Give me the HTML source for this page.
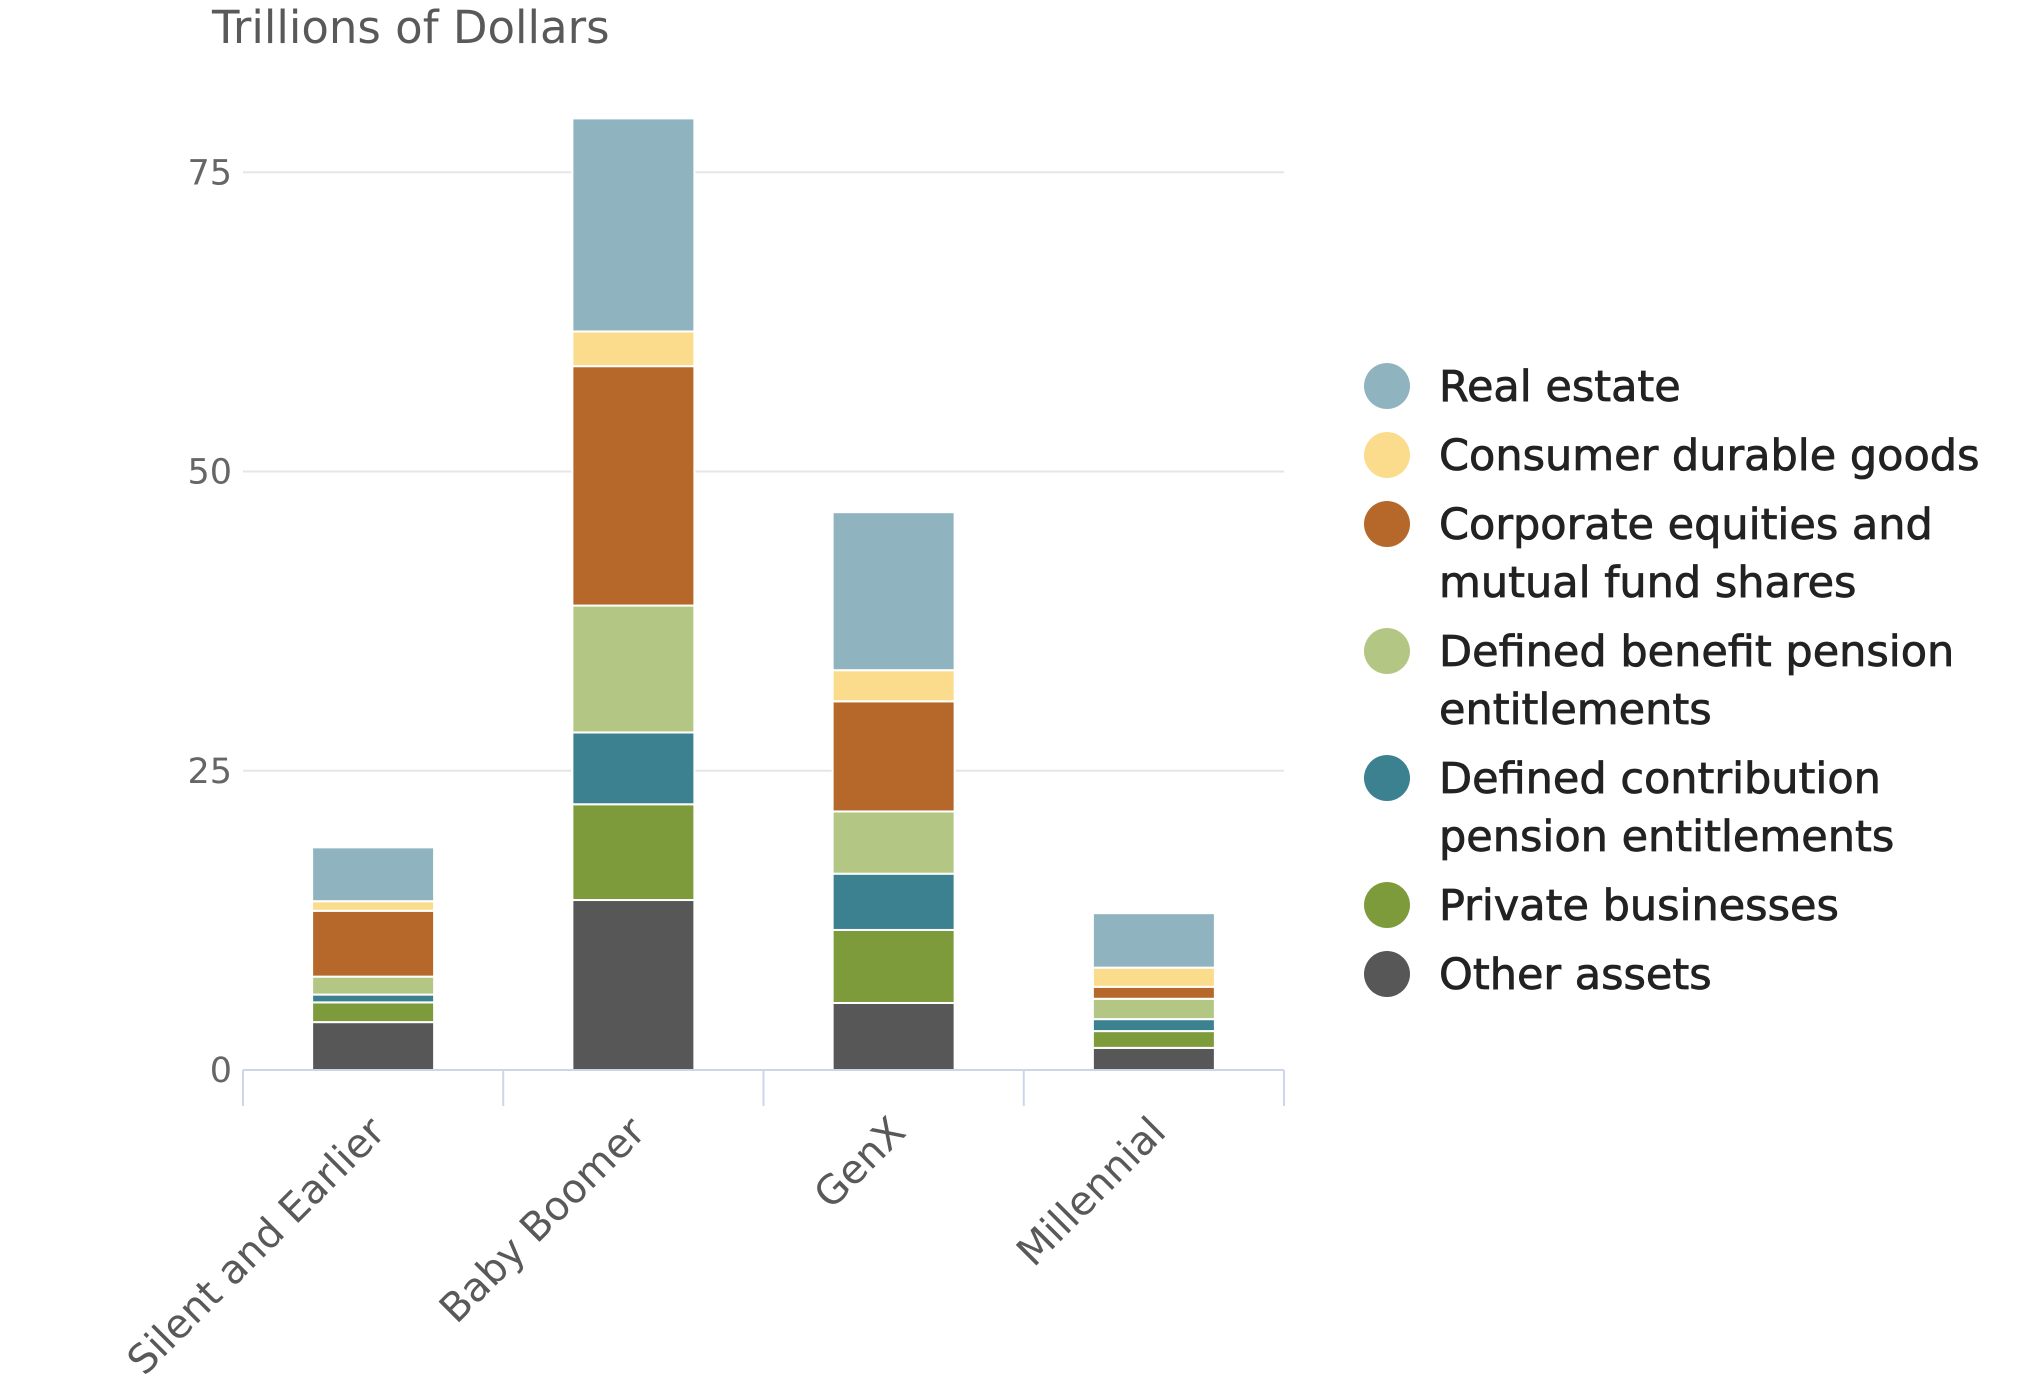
<!DOCTYPE html>
<html><head><meta charset="utf-8"><style>
html,body{margin:0;padding:0;background:#fff;}
svg{display:block;font-family:"DejaVu Sans","Liberation Sans",sans-serif;}
</style></head><body>
<svg id="chart" width="2039" height="1391" viewBox="0 0 2039 1391">
<text x="212" y="43" font-size="45" fill="#595959">Trillions of Dollars</text>
<g id="grid"></g>
<g id="yticks"></g>
<g id="bars"></g>
<g id="xaxis"></g>
<g id="legend"></g>
</svg>
<script>
const categories = ["Silent and Earlier","Baby Boomer","GenX","Millennial"];
const seriesNames = ["Other assets","Private businesses","Defined contribution pension entitlements","Defined benefit pension entitlements","Corporate equities and mutual fund shares","Consumer durable goods","Real estate"];
const otherAssets = [4.0, 14.2, 5.6, 1.85];
const privateBusinesses = [1.65, 8.0, 6.1, 1.4];
const definedContribution = [0.65, 6.0, 4.7, 1.0];
const definedBenefit = [1.5, 10.6, 5.2, 1.7];
const equities = [5.5, 20.0, 9.2, 1.0];
const durableGoods = [0.8, 2.9, 2.6, 1.6];
const realEstate = [4.5, 17.8, 13.2, 4.55];
const yTicks = [0, 25, 50, 75];
const legendLines = [["Real estate"],["Consumer durable goods"],["Corporate equities and","mutual fund shares"],["Defined benefit pension","entitlements"],["Defined contribution","pension entitlements"],["Private businesses"],["Other assets"]];

const series = [otherAssets, privateBusinesses, definedContribution, definedBenefit, equities, durableGoods, realEstate];
const colors = ["#575757","#7e9b3b","#3b8190","#b4c684","#b5682a","#fbdc8c","#8fb4bf"];
const NS = "http://www.w3.org/2000/svg";
const plotL = 243, plotR = 1284, y0 = 1070, unit = 11.97;
const yScale = v => y0 - v * unit;
const catW = (plotR - plotL) / categories.length;
const xCenter = i => plotL + catW * (i + 0.5);
const barW = 122;
function mk(tag, attrs, parent){const e=document.createElementNS(NS,tag);for(const k in attrs)e.setAttribute(k,attrs[k]);parent.appendChild(e);return e;}

const grid = document.getElementById('grid'), yt = document.getElementById('yticks');
yTicks.forEach(t => {
  if (t > 0) {
    const l = mk('line',{x1:plotL,x2:plotR,y1:yScale(t),y2:yScale(t),stroke:'#e6e6e6','stroke-width':2},grid);
    
    
  }
  const tx = mk('text',{x:232,y:yScale(t)+12,'text-anchor':'end','font-size':35,fill:'#666'},yt);
  tx.textContent = t;
  
  
});

const bars = document.getElementById('bars');
categories.forEach((c, i) => {
  let base = 0;
  series.forEach((s, k) => {
    const v = s[i];
    const r = mk('rect',{x:xCenter(i)-barW/2,y:yScale(base+v),width:barW,height:v*unit,fill:colors[k],stroke:'#fff','stroke-width':2},bars);
    
    
    base += v;
  });
});

const xa = document.getElementById('xaxis');
const axl = mk('line',{x1:plotL,x2:plotR,y1:y0,y2:y0,stroke:'#ccd6eb','stroke-width':2},xa);


for (let i = 0; i <= categories.length; i++) {
  const x = plotL + catW * i;
  const tk = mk('line',{x1:x,x2:x,y1:y0,y2:1106,stroke:'#ccd6eb','stroke-width':2},xa);
  
  
}
categories.forEach((c, i) => {
  const ax = xCenter(i) + 14, ay = 1134;
  const t = mk('text',{x:ax,y:ay,'text-anchor':'end','font-size':40,fill:'#595959',transform:`rotate(-45 ${ax} ${ay})`},xa);
  t.textContent = c;
  
  
});

const lg = document.getElementById('legend');
const rowY = [386, 455, 524, 651, 778, 905, 974];
const legendColors = colors.slice().reverse();
legendLines.forEach((lines, k) => {
  const g = mk('g',{},lg);
  
  
  mk('circle',{cx:1387,cy:rowY[k],r:23,fill:legendColors[k]},g);
  lines.forEach((ln, j) => {
    const t = mk('text',{x:1439,y:rowY[k]+15+j*58,'font-size':43,fill:'#222',stroke:'#222','stroke-width':0.8},g);
    t.textContent = ln;
  });
});
</script>
</body></html>
